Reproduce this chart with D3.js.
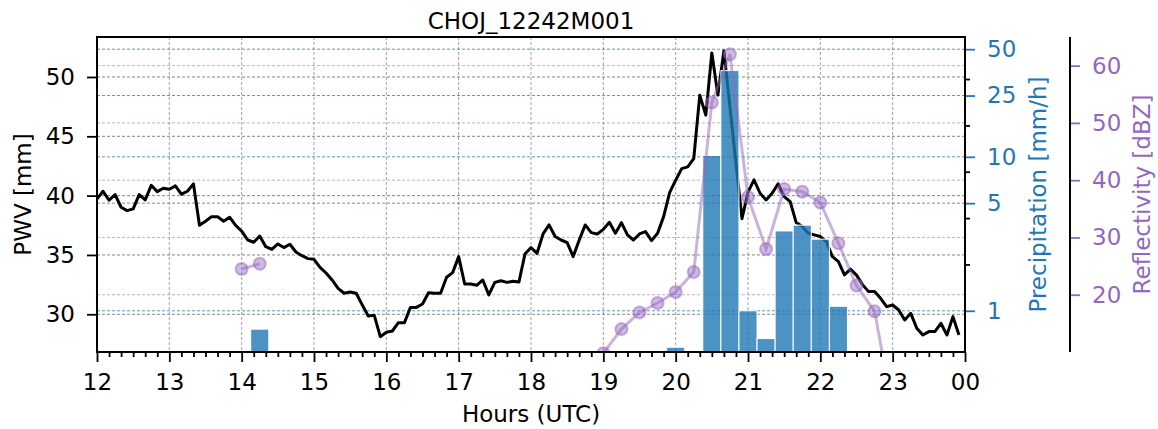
<!DOCTYPE html>
<html>
<head>
<meta charset="utf-8">
<script src="https://cdn.jsdelivr.net/npm/d3@7"></script>
<style>
  body { margin: 0; background: #fff; }
  text { font-family: "DejaVu Sans", sans-serif; }
</style>
</head>
<body>
<svg width="1158" height="429"></svg>
<script>
// PWV every 5 minutes from 12:00 to 23:55 UTC
var pwvStart = 12, pwvStepMin = 5;
var pwvValues = [
  39.72, 40.37, 39.61, 40.09, 39.02, 38.74, 38.88, 40.09, 39.64, 40.87, 40.34, 40.62,
  40.54, 40.82, 40.12, 40.37, 40.99, 37.50, 37.84, 38.23, 38.23, 37.84, 38.18, 37.50,
  37.00, 36.26, 36.07, 36.60, 35.70, 35.48, 35.93, 35.62, 35.90, 35.25, 34.94, 34.69,
  34.63, 33.96, 33.48, 32.89, 32.19, 31.77, 31.88, 31.77, 30.79, 29.86, 29.91, 28.11,
  28.48, 28.59, 29.29, 29.29, 30.58, 30.58, 30.87, 31.82, 31.77, 31.77, 33.12, 33.51,
  34.86, 32.55, 32.55, 32.44, 32.89, 31.63, 32.69, 32.83, 32.69, 32.78, 32.72, 35.08,
  35.62, 35.14, 36.77, 37.53, 36.55, 36.26, 36.04, 34.86, 36.26, 37.53, 36.88, 36.77,
  37.16, 37.75, 36.83, 37.72, 36.69, 36.26, 36.77, 36.97, 36.21, 36.83, 38.23, 40.26,
  41.30, 42.28, 42.42, 43.12, 48.47, 46.78, 52.03, 48.47, 52.20, 47.48, 42.76, 38.06,
  40.29, 41.33, 40.20, 39.64, 40.20, 40.99, 39.92, 39.50, 37.73, 37.39, 36.83, 36.69,
  36.55, 36.12, 34.86, 34.44, 33.32, 33.80, 33.30, 32.50, 31.91, 31.91, 31.35, 30.64,
  30.78, 30.36, 29.52, 30.08, 28.82, 28.25, 28.54, 28.54, 29.24, 28.25, 29.80, 28.25
];

// precipitation, 15 minute bins (hour of bin centre)
var rainHours = [14.25, 20, 20.5, 20.75, 21, 21.25, 21.5, 21.75, 22, 22.25];
var rainValues = [0.76, 0.58, 10.2, 36.3, 1.0, 0.66, 3.3, 3.6, 2.92, 1.07];

// radar reflectivity (null = gap)
var reflHours = [14, 14.25, 14.5, 19, 19.25, 19.5, 19.75, 20, 20.25, 20.5, 20.75,
  21, 21.25, 21.5, 21.75, 22, 22.25, 22.5, 22.75, 23];
var reflValues = [24.5, 25.4, null, 9.8, 14.0, 16.9, 18.55, 20.47, 23.96, 53.56, 62.0,
  37.05, 27.98, 38.45, 37.97, 36.1, 29.0, 21.6, 17.1, 0];

var hourTicks = [12, 13, 14, 15, 16, 17, 18, 19, 20, 21, 22, 23, 24];
var pwvTicks = [30, 35, 40, 45, 50];
var rainTicks = [1, 5, 10, 25, 50];
var rainBase2Ticks = [2, 4, 8, 16, 32];
var reflTicks = [20, 30, 40, 50, 60];

var svg = d3.select("svg"),
  width = +svg.attr("width"),
  height = +svg.attr("height");
var plotL = 97, plotR = 965, plotT = 37, plotB = 352;
var purple = "#9467bd", blue = "#1f77b4";

var x = d3.scaleLinear().domain([12, 24]).range([plotL, plotR]);
var yPwv = d3.scaleLinear().domain([26.82, 53.37]).range([plotB, plotT]);
var yRain = d3.scaleLog().domain([0.54, 60]).range([plotB, plotT]);
var yRefl = d3.scaleLinear().domain([10, 65]).range([plotB, plotT]);

svg.append("defs").append("clipPath").attr("id", "clip")
  .append("rect")
  .attr("x", plotL).attr("y", plotT)
  .attr("width", plotR - plotL).attr("height", plotB - plotT);

// grid
var grid = svg.append("g").attr("fill", "none").attr("stroke-width", 1).attr("stroke-dasharray", "3,2");
grid.selectAll(".vg").data(hourTicks.slice(1, -1)).enter().append("line")
  .attr("x1", function (d) { return x(d); }).attr("x2", function (d) { return x(d); })
  .attr("y1", plotT).attr("y2", plotB)
  .attr("stroke", "#8a8a8a").attr("stroke-opacity", 0.8);
grid.selectAll(".hp").data(pwvTicks).enter().append("line")
  .attr("x1", plotL).attr("x2", plotR)
  .attr("y1", function (d) { return yPwv(d); }).attr("y2", function (d) { return yPwv(d); })
  .attr("stroke", "#666").attr("stroke-opacity", 0.8);
grid.selectAll(".hr").data(rainTicks).enter().append("line")
  .attr("x1", plotL).attr("x2", plotR)
  .attr("y1", function (d) { return yRain(d); }).attr("y2", function (d) { return yRain(d); })
  .attr("stroke", blue).attr("stroke-opacity", 0.75);
grid.selectAll(".hf").data(reflTicks).enter().append("line")
  .attr("x1", plotL).attr("x2", plotR)
  .attr("y1", function (d) { return yRefl(d); }).attr("y2", function (d) { return yRefl(d); })
  .attr("stroke", purple).attr("stroke-opacity", 0.55);

var plot = svg.append("g").attr("clip-path", "url(#clip)");

// PWV line
var pwvData = pwvValues.map(function (v, i) {
  return { h: pwvStart + (i * pwvStepMin) / 60, v: v };
});
plot.append("path")
  .datum(pwvData)
  .attr("fill", "none")
  .attr("stroke", "#000")
  .attr("stroke-width", 3)
  .attr("stroke-linejoin", "round")
  .attr("d", d3.line()
    .x(function (d) { return x(d.h); })
    .y(function (d) { return yPwv(d.v); }));

// precipitation bars
var barW = x(12.25) - x(12);
plot.selectAll(".bar")
  .data(rainHours.map(function (h, i) { return { h: h, v: rainValues[i] }; }))
  .enter().append("rect")
  .attr("x", function (d) { return x(d.h) - barW / 2; })
  .attr("width", barW)
  .attr("y", function (d) { return yRain(d.v); })
  .attr("height", function (d) { return plotB - yRain(d.v); })
  .attr("fill", blue)
  .attr("fill-opacity", 0.8)
  .attr("stroke", "#fff")
  .attr("stroke-width", 1);

// reflectivity
var reflData = reflHours.map(function (h, i) { return { h: h, v: reflValues[i] }; });
plot.append("path")
  .datum(reflData)
  .attr("fill", "none")
  .attr("stroke", purple)
  .attr("stroke-opacity", 0.5)
  .attr("stroke-width", 3)
  .attr("d", d3.line()
    .defined(function (d) { return d.v !== null; })
    .x(function (d) { return x(d.h); })
    .y(function (d) { return yRefl(d.v); }));
plot.selectAll(".dot")
  .data(reflData.filter(function (d) { return d.v !== null; }))
  .enter().append("circle")
  .attr("cx", function (d) { return x(d.h); })
  .attr("cy", function (d) { return yRefl(d.v); })
  .attr("r", 6)
  .attr("fill", purple).attr("fill-opacity", 0.45)
  .attr("stroke", purple).attr("stroke-opacity", 0.5)
  .attr("stroke-width", 2);

// axes
function styleAxis(g, color) {
  g.select(".domain").remove();
  g.selectAll(".tick line").attr("stroke", color).attr("stroke-width", 1.8);
  g.selectAll(".tick text").attr("fill", color).style("font-size", "23px")
    .style("font-family", "DejaVu Sans");
}

var minorHours = d3.range(12, 24.001, 1 / 6).filter(function (h) {
  return Math.abs(h - Math.round(h)) > 0.01;
});
svg.append("g").attr("transform", "translate(0," + plotB + ")")
  .call(d3.axisBottom(x).tickValues(minorHours).tickSize(5).tickFormat(""))
  .call(styleAxis, "#000");
svg.append("g").attr("transform", "translate(0," + plotB + ")")
  .call(d3.axisBottom(x).tickValues(hourTicks).tickSize(10).tickPadding(12)
    .tickFormat(function (d) { return d3.format("02d")(d % 24); }))
  .call(styleAxis, "#000");

svg.append("g").attr("transform", "translate(" + plotL + ",0)")
  .call(d3.axisLeft(yPwv).tickValues(pwvTicks).tickSize(10).tickPadding(12))
  .call(styleAxis, "#000");

svg.append("g").attr("transform", "translate(" + plotR + ",0)")
  .call(d3.axisRight(yRain).tickValues(rainBase2Ticks).tickSize(5).tickFormat(""))
  .call(styleAxis, "#000");
svg.append("g").attr("transform", "translate(" + plotR + ",0)")
  .call(d3.axisRight(yRain).tickValues(rainTicks).tickSize(10).tickPadding(12)
    .tickFormat(d3.format("d")))
  .call(styleAxis, blue);

var reflX = 1070;
svg.append("g").attr("transform", "translate(" + reflX + ",0)")
  .call(d3.axisRight(yRefl).tickValues(reflTicks).tickSize(10).tickPadding(12))
  .call(styleAxis, purple);
svg.append("line")
  .attr("x1", reflX).attr("x2", reflX).attr("y1", plotT).attr("y2", plotB)
  .attr("stroke", "#000").attr("stroke-width", 2);

// frame
svg.append("rect")
  .attr("x", plotL).attr("y", plotT)
  .attr("width", plotR - plotL).attr("height", plotB - plotT)
  .attr("fill", "none").attr("stroke", "#000").attr("stroke-width", 2);

// labels
svg.append("text")
  .attr("x", (plotL + plotR) / 2).attr("y", 29)
  .attr("text-anchor", "middle").style("font-size", "23px")
  .text("CHOJ_12242M001");
svg.append("text")
  .attr("x", (plotL + plotR) / 2).attr("y", 422)
  .attr("text-anchor", "middle").style("font-size", "23px")
  .text("Hours (UTC)");
svg.append("text")
  .attr("transform", "translate(31," + (plotT + plotB) / 2 + ") rotate(-90)")
  .attr("text-anchor", "middle").style("font-size", "23px")
  .text("PWV [mm]");
svg.append("text")
  .attr("transform", "translate(1046," + (plotT + plotB) / 2 + ") rotate(-90)")
  .attr("text-anchor", "middle").style("font-size", "23px")
  .attr("fill", blue)
  .text("Precipitation [mm/h]");
svg.append("text")
  .attr("transform", "translate(1150," + (plotT + plotB) / 2 + ") rotate(-90)")
  .attr("text-anchor", "middle").style("font-size", "23px")
  .attr("fill", purple)
  .text("Reflectivity [dBZ]");
</script>
</body>
</html>
